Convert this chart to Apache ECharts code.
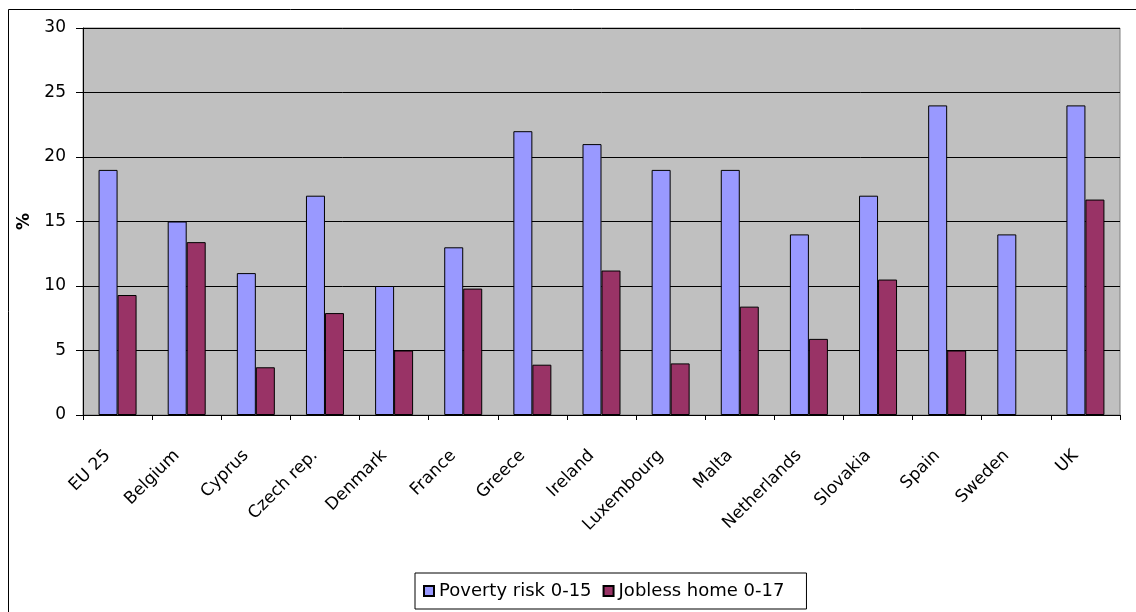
<!DOCTYPE html>
<html>
<head>
<meta charset="utf-8">
<script src="https://cdn.jsdelivr.net/npm/echarts@6/dist/echarts.min.js"></script>
<style>
html,body{margin:0;padding:0;background:#fff;}
#chart{width:1136px;height:612px;}
</style>
</head>
<body>
<div id="chart"></div>
<script>
const categories = ['EU 25','Belgium','Cyprus','Czech rep.','Denmark','France','Greece','Ireland','Luxembourg','Malta','Netherlands','Slovakia','Spain','Sweden','UK'];
const povertyRisk = [19, 15, 11, 17, 10, 13, 22, 21, 19, 19, 14, 17, 24, 14, 24];
const joblessHome = [9.3, 13.4, 3.7, 7.9, 5.0, 9.8, 3.9, 11.2, 4.0, 8.4, 5.9, 10.5, 5.0, null, 16.7];
const yTicks = [0, 5, 10, 15, 20, 25, 30];
const seriesNames = ['Poverty risk 0-15', 'Jobless home 0-17'];

const FONT = 'DejaVu Sans';
const chart = echarts.init(document.getElementById('chart'), null, {renderer: 'canvas'});
chart.setOption({
  animation: false,
  backgroundColor: '#ffffff',
  textStyle: {fontFamily: FONT, color: '#000'},
  graphic: [{
    type: 'rect',
    shape: {x: 8.5, y: 9.5, width: 1200, height: 700},
    style: {fill: 'none', stroke: '#000', lineWidth: 1},
    silent: true,
    z: -10
  }],
  grid: {
    left: 83, top: 28, right: 16, bottom: 197,
    show: true, backgroundColor: '#C0C0C0', borderColor: '#808080', borderWidth: 1,
    containLabel: false
  },
  legend: {
    left: 415, top: 573,
    data: seriesNames,
    orient: 'horizontal',
    itemWidth: 10, itemHeight: 10, itemGap: 11,
    icon: 'rect',
    padding: [9, 22, 9, 8],
    borderColor: '#000', borderWidth: 1, backgroundColor: '#fff',
    textStyle: {fontFamily: FONT, fontSize: 18, color: '#000'}
  },
  xAxis: {
    type: 'category',
    data: categories,
    axisLine: {lineStyle: {color: '#000', width: 1}},
    axisTick: {show: true, length: 5, lineStyle: {color: '#000'}},
    axisLabel: {rotate: 45, interval: 0, fontFamily: FONT, fontSize: 17, color: '#000', margin: 28, padding: [0, 14, 0, 0]}
  },
  yAxis: {
    type: 'value',
    min: yTicks[0], max: yTicks[yTicks.length - 1], interval: 5,
    name: '%',
    nameLocation: 'middle',
    nameRotate: 90,
    nameGap: 48,
    nameTextStyle: {fontFamily: FONT, fontSize: 17, fontWeight: 'bold', color: '#000'},
    axisLine: {show: true, lineStyle: {color: '#000', width: 1}},
    axisTick: {show: true, length: 7, lineStyle: {color: '#000'}},
    axisLabel: {fontFamily: FONT, fontSize: 17, color: '#000', margin: 17},
    splitLine: {show: true, lineStyle: {color: '#000', width: 1}}
  },
  series: [
    {
      name: seriesNames[0], type: 'bar', data: povertyRisk,
      barWidth: 19, barGap: '0%',
      itemStyle: {color: '#9999FF', borderColor: '#000', borderWidth: 1}
    },
    {
      name: seriesNames[1], type: 'bar', data: joblessHome,
      barWidth: 19, barGap: '0%',
      itemStyle: {color: '#993366', borderColor: '#000', borderWidth: 1}
    }
  ]
});
</script>
</body>
</html>
